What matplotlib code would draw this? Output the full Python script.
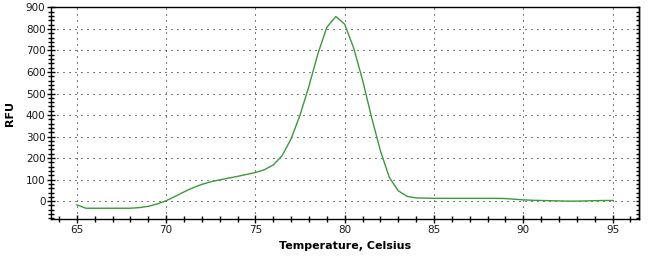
import numpy as np
import matplotlib
matplotlib.use("Agg")
import matplotlib.pyplot as plt
from matplotlib.ticker import MultipleLocator

# melt curve
temperature = [65, 65.5, 66, 66.5, 67, 67.5, 68, 68.5, 69, 69.5,
               70, 70.5, 71, 71.5, 72, 72.5, 73, 73.5, 74, 74.5,
               75, 75.5, 76, 76.5, 77, 77.5, 78, 78.5, 79, 79.5,
               80, 80.5, 81, 81.5, 82, 82.5, 83, 83.5, 84, 84.5,
               85, 85.5, 86, 86.5, 87, 87.5, 88, 88.5, 89, 89.5,
               90, 90.5, 91, 91.5, 92, 92.5, 93, 93.5, 94, 94.5, 95]
rfu = [-17, -33, -33, -33, -33, -33, -33, -30, -24, -13,
       2, 22, 43, 62, 78, 90, 99, 107, 115, 124,
       133, 146, 168, 212, 290, 400, 535, 685, 808, 858,
       822, 712, 563, 391, 234, 110, 48, 22, 15, 14,
       13, 13, 13, 13, 13, 13, 13, 13, 12, 9,
       6, 4, 3, 2, 1, 0, 0, 1, 2, 3, 3]

x_ticks = [65, 70, 75, 80, 85, 90, 95]
y_ticks = [0, 100, 200, 300, 400, 500, 600, 700, 800, 900]

fig = plt.figure(figsize=(6.53, 2.60), dpi=100)
ax = fig.add_axes([0.0781, 0.1577, 0.9009, 0.8153])

ax.plot(temperature, rfu, color="#3a9a3a", linewidth=1.0)

ax.set_xlim(63.55, 96.5)
ax.set_ylim(-83, 902)
ax.set_xticks(x_ticks)
ax.set_yticks(y_ticks)
ax.xaxis.set_minor_locator(MultipleLocator(1))
ax.yaxis.set_minor_locator(MultipleLocator(20))

ax.grid(True, which="major", color="black", linewidth=0.72,
        linestyle=(0, (1, 5)))

for s in ax.spines.values():
    s.set_linewidth(1.0)
    s.set_color("black")

ax.tick_params(axis="both", which="major", direction="inout", length=6,
               width=1, labelsize=7.5, labelcolor="#1a1a1a", pad=1)
ax.tick_params(axis="both", which="minor", direction="inout", length=4, width=1)

# right spine: small inward ticks, no labels
right = ax.secondary_yaxis("right")
right.set_yticks(y_ticks)
right.yaxis.set_minor_locator(MultipleLocator(20))
right.tick_params(which="both", direction="in", length=2.5, width=1,
                  labelright=False)
right.spines["right"].set_linewidth(1.0)

ax.set_xlabel("Temperature, Celsius", fontsize=8, fontweight="bold", labelpad=5)
ax.set_ylabel("RFU", fontsize=8, fontweight="bold")
ax.yaxis.set_label_coords(-0.061, 0.5)

fig.savefig("out.png", dpi=100)
